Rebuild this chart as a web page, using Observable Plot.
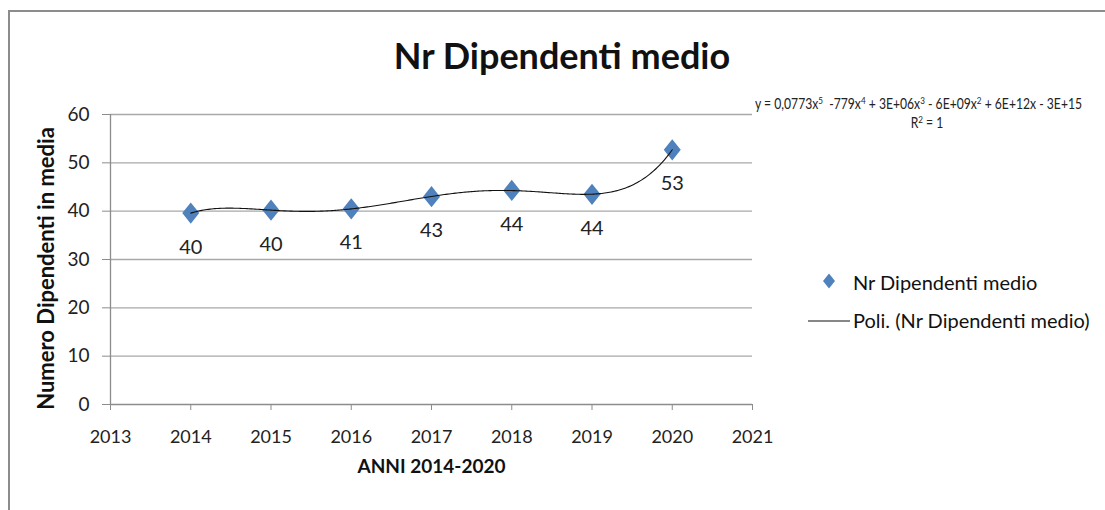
<!DOCTYPE html>
<html>
<head>
<meta charset="utf-8">
<script src="https://cdn.jsdelivr.net/npm/d3@7"></script>
<script src="https://cdn.jsdelivr.net/npm/@observablehq/plot@0.6"></script>
<style>
  body { margin: 0; background: #fff; }
  #wrap { position: relative; width: 1105px; height: 510px; overflow: hidden; font-family: Lato, "Open Sans", sans-serif; color: #111; }
  #frame { position: absolute; left: 8px; top: 10px; width: 1200px; height: 600px; border: 2px solid #8c8c8c; box-sizing: border-box; }
  #chart { position: absolute; left: 0; top: 0; }
  #title { position: absolute; left: 0; width: 1124px; top: 37px; text-align: center; font-weight: 700; font-size: 36px; line-height: 36px; white-space: nowrap; }
  #eq { position: absolute; left: 755px; top: 96px; font-family: Lato, "Open Sans", sans-serif; font-size: 15px; line-height: 15px; white-space: nowrap; color: #222; transform: scaleX(0.81); transform-origin: 0 50%; }
  #r2 { position: absolute; left: 827px; width: 200px; top: 115px; text-align: center; font-family: Lato, "Open Sans", sans-serif; font-size: 15px; line-height: 15px; white-space: nowrap; color: #222; transform: scaleX(0.81); transform-origin: 50% 50%; }
  #eq sup, #r2 sup { font-size: 10px; vertical-align: 5px; line-height: 0; }
  .leg { position: absolute; left: 853px; font-size: 20px; line-height: 20px; white-space: nowrap; color: #111; }
  #legsym { position: absolute; left: 800px; top: 260px; }
</style>
</head>
<body>
<div id="wrap">
  <div id="frame"></div>
  <div id="chart"></div>
  <div id="title"></div>
  <div id="eq"></div>
  <div id="r2"></div>
  <svg id="legsym" width="60" height="80"></svg>
  <div class="leg" id="leg1" style="top:272px"></div>
  <div class="leg" id="leg2" style="top:310px"></div>
</div>
<script>
// ---- data ----
const years = [2014, 2015, 2016, 2017, 2018, 2019, 2020];
const values = [39.6, 40.2, 40.5, 43.0, 44.3, 43.5, 52.7];
const valueLabels = ["40", "40", "41", "43", "44", "44", "53"];
const xTicks = [2013, 2014, 2015, 2016, 2017, 2018, 2019, 2020, 2021];
const yTicks = [0, 10, 20, 30, 40, 50, 60];
const titleText = "Nr Dipendenti medio";
const seriesName = "Nr Dipendenti medio";
const trendName = "Poli. (Nr Dipendenti medio)";
const xLabel = "ANNI 2014-2020";
const yLabel = "Numero Dipendenti in media";
const equationHTML = "y = 0,0773x<sup>5</sup>&nbsp; -779x<sup>4</sup> + 3E+06x<sup>3</sup> - 6E+09x<sup>2</sup> + 6E+12x - 3E+15";
const r2HTML = "R<sup>2</sup> = 1";

const data = years.map((year, i) => ({year, value: values[i], label: valueLabels[i]}));

// ---- polynomial trend (least squares, degree 5) ----
function polyfit(xs, ys, deg) {
  const n = deg + 1;
  const A = Array.from({length: n}, () => new Array(n + 1).fill(0));
  for (let k = 0; k < xs.length; k++) {
    for (let i = 0; i < n; i++) {
      for (let j = 0; j < n; j++) A[i][j] += Math.pow(xs[k], i + j);
      A[i][n] += ys[k] * Math.pow(xs[k], i);
    }
  }
  for (let c = 0; c < n; c++) {
    let p = c;
    for (let r = c + 1; r < n; r++) if (Math.abs(A[r][c]) > Math.abs(A[p][c])) p = r;
    [A[c], A[p]] = [A[p], A[c]];
    for (let r = 0; r < n; r++) {
      if (r === c) continue;
      const f = A[r][c] / A[c][c];
      for (let j = c; j <= n; j++) A[r][j] -= f * A[c][j];
    }
  }
  return A.map((row, i) => row[n] / row[i]);
}
const x0 = 2017;
const coeffs = polyfit(years.map(y => y - x0), values, 5);
const evalPoly = t => coeffs.reduce((s, c, i) => s + c * Math.pow(t, i), 0);
const trend = d3.range(0, 301).map(i => {
  const x = years[0] + i * (years[years.length - 1] - years[0]) / 300;
  return {x, y: evalPoly(x - x0)};
});

// custom diamond (slightly taller than wide)
const diamond = {
  draw(ctx, size) {
    const r = Math.sqrt(size / Math.PI);
    const w = r, h = r * 1.25;
    ctx.moveTo(0, -h); ctx.lineTo(w, 0); ctx.lineTo(0, h); ctx.lineTo(-w, 0); ctx.closePath();
  }
};

const blue = "#4f81bd";
const axisGray = "#8c8c8c";
const gridGray = "#a8a8a8";

const chart = Plot.plot({
  width: 1105,
  height: 510,
  marginLeft: 110,
  marginRight: 353,
  marginTop: 114,
  marginBottom: 106,
  style: {fontFamily: "Lato, 'Open Sans', sans-serif", background: "transparent", color: "#222", overflow: "visible"},
  x: {domain: [2013, 2021]},
  y: {domain: [0, 60]},
  marks: [
    Plot.ruleY(yTicks.filter(d => d > 0), {stroke: gridGray, strokeWidth: 1.3}),
    Plot.ruleY([0], {stroke: axisGray, strokeWidth: 1.3}),
    Plot.ruleX([2013], {y1: 0, y2: 60, stroke: axisGray, strokeWidth: 1.3}),
    Plot.axisX(xTicks, {tickSize: 6, tickPadding: 20, tickFormat: d => String(d), stroke: axisGray, fill: "#222", fontSize: 18, label: null}),
    Plot.axisY(yTicks, {tickSize: 8, tickPadding: 13, stroke: axisGray, fill: "#222", fontSize: 19, label: null}),
    Plot.text([xLabel], {frameAnchor: "bottom", dy: 68, fontWeight: 700, fontSize: 19, fill: "#111"}),
    Plot.text([yLabel], {frameAnchor: "left", textAnchor: "middle", dx: -64, dy: 9, rotate: -90, fontWeight: 700, fontSize: 22, fill: "#111"}),
    Plot.dot(data, {x: "year", y: "value", r: 8.5, symbol: diamond, fill: blue, stroke: "none"}),
    Plot.line(trend, {x: "x", y: "y", stroke: "#111", strokeWidth: 1.1}),
    Plot.text(data, {x: "year", y: "value", text: "label", dy: 34, fontSize: 20, fill: "#222"})
  ]
});
document.getElementById("chart").appendChild(chart);

document.getElementById("title").textContent = titleText;
document.getElementById("eq").innerHTML = equationHTML;
document.getElementById("r2").innerHTML = r2HTML;
document.getElementById("leg1").textContent = seriesName;
document.getElementById("leg2").textContent = trendName;

// legend symbols
const leg = d3.select("#legsym");
leg.append("path")
  .attr("d", d3.symbol(diamond, 6 * 6 * Math.PI)())
  .attr("transform", "translate(29,21)")
  .attr("fill", blue);
leg.append("line")
  .attr("x1", 8).attr("x2", 50).attr("y1", 61).attr("y2", 61)
  .attr("stroke", "#111").attr("stroke-width", 1.1);
</script>
</body>
</html>
